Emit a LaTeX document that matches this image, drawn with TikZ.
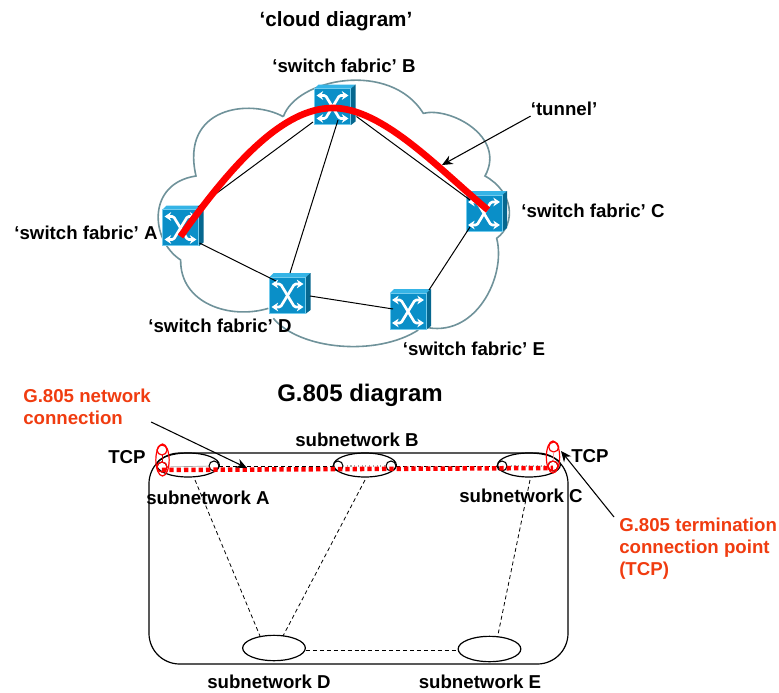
\documentclass[tikz,border=0pt]{standalone}
\usepackage{fontspec}
\setmainfont{Liberation Sans}
\usetikzlibrary{calc,arrows.meta,shapes.geometric}
\definecolor{cloudc}{HTML}{6F929A}
\definecolor{swface}{HTML}{0A8FC8}
\definecolor{swtop}{HTML}{35B4E6}
\definecolor{swside}{HTML}{06678F}
\definecolor{tcpred}{HTML}{F03C10}
\tikzset{
 x=0.75pt,y=-0.75pt,
 lbl/.style={font=\fontsize{14}{22}\selectfont\bfseries,inner sep=0pt,text=black},
 redlbl/.style={font=\fontsize{14}{16.5}\selectfont\bfseries,inner sep=0pt,text=tcpred,align=left,anchor=north west},
 ttl/.style={font=\fontsize{#1}{20}\selectfont\bfseries,inner sep=0pt},
 swbox/.style={draw=swtop!70!white,line width=0.5pt,fill=swface,minimum width=27pt,minimum height=27pt,inner sep=0pt,outer sep=0pt},
 link/.style={black,line width=0.75pt},
 dlink/.style={black,line width=0.6pt,dash pattern=on 3pt off 2.2pt},
 ptr/.style={black,line width=0.8pt,-{Stealth[length=8pt,width=7pt]}},
 sn/.style={draw=black,line width=0.9pt,ellipse,inner sep=0pt,outer sep=0pt,minimum width=47pt,minimum height=18pt},
 sncirc/.style={draw=black,line width=0.8pt,circle,minimum size=7.5pt,inner sep=0pt,outer sep=0pt},
 redell/.style={draw=red,line width=0.9pt,ellipse,inner sep=0pt,outer sep=0pt,minimum width=10pt,minimum height=24pt},
 redcirc/.style={draw=red,line width=0.9pt,circle,minimum size=7.5pt,inner sep=0pt,outer sep=0pt},
 swarrow/.style={white,line width=2pt,{Stealth[length=5pt,width=6.5pt]}-{Stealth[length=5pt,width=6.5pt]}},
}
\newcommand{\swt}[3]{%
 \fill[swtop] (#2-18,#3-18) -- (#2-14,#3-22) -- (#2+23,#3-22) -- (#2+18.5,#3-18) -- cycle;
 \fill[swside] (#2+18.5,#3-18) -- (#2+23,#3-22) -- (#2+23,#3+15) -- (#2+18.5,#3+18.5) -- cycle;
 \node[swbox] (#1) at (#2,#3) {};
 \draw[swarrow,rounded corners=1pt] (#2-16,#3-11) -- (#2-7,#3-11) -- (#2+7,#3+12) -- (#2+16,#3+12);
 \draw[swarrow,rounded corners=1pt] (#2+16,#3-11) -- (#2+7,#3-11) -- (#2-7,#3+12) -- (#2-16,#3+12);
}
\begin{document}
\begin{tikzpicture}
\useasboundingbox (0,0) rectangle (779,693);
% cloud
\begin{scope}[shift={(150,70)},x=0.25pt,y=-0.25pt]
\draw[cloudc,line width=1.2pt] (400,140) .. controls (440,25) and (720,-30) .. (820,130)
 .. controls (900,110) and (1070,200) .. (1005,318)
 .. controls (1090,365) and (1100,460) .. (1040,505)
 .. controls (1070,620) and (975,810) .. (820,770);
\draw[cloudc,line width=1.2pt] (805,780) .. controls (680,860) and (450,840) .. (370,745);
\draw[cloudc,line width=1.2pt] (355,715) .. controls (240,750) and (90,700) .. (92,570)
 .. controls (0,510) and (-10,340) .. (138,318)
 .. controls (90,110) and (300,85) .. (400,140);
\end{scope}
% switches
\swt{A}{180.5}{227.5}
\swt{B}{332.5}{106.5}
\swt{C}{484}{213}
\swt{D}{287.5}{295}
\swt{E}{408}{311}
% links
\draw[link] ($(A)+(17.5,-20.5)$) -- ($(B)+(-19.5,15.5)$);
\draw[link] ($(A)+(19,15.5)$) -- ($(D)+(-11.5,-14)$);
\draw[link] ($(B)+(5.5,13.5)$) -- ($(D)+(2.5,-22)$);
\draw[link] ($(B)+(24,10)$) -- ($(C)+(-14,-13)$);
\draw[link] ($(C)+(-14,14)$) -- ($(E)+(21,-21)$);
\draw[link] ($(D)+(22.5,1)$) -- ($(E)+(-15,-2)$);
% tunnel
\draw[red,line width=5pt] ($(A)+(0,9)$) .. controls (233,163) and (283,108) .. (333,108)
 .. controls (383,108) and (440,170) .. ($(C)+(4,-3)$);
% labels top
\node[ttl=15.5] (t1) at (336,21) {‘cloud diagram’};
\node[lbl] (lb) at (344,66) {‘switch fabric’ B};
\node[lbl] (la) at (86,233) {‘switch fabric’ A};
\node[lbl] (lc) at (593,211) {‘switch fabric’ C};
\node[lbl] (ld) at (220,326) {‘switch fabric’ D};
\node[lbl] (le) at (474,349) {‘switch fabric’ E};
\node[lbl] (tun) at (564,109) {‘tunnel’};
\coordinate (tunhit) at (442,165);
\draw[ptr] (tun.south west) -- (tunhit);
% G.805
\node[ttl=18] (t2) at (360,395) {G.805 diagram};
\draw[black,line width=0.9pt,rounded corners=23pt] (149,453) rectangle (568,664);
% subnetworks
\node[sn] (sa) at (188,465) {};
\node[sn] (sb) at (365,465) {};
\node[sn] (sc) at (529,465) {};
\node[sn,minimum height=19pt] (sd) at (274,648) {};
\node[sn,minimum height=19pt] (se) at (489.5,649) {};
% link connection points
\node[sncirc] (a1) at (162,467) {};
\node[sncirc] (a2) at (214,466) {};
\node[sncirc] (b1) at (338,466) {};
\node[sncirc] (b2) at (391,466) {};
\node[sncirc] (c1) at (502,466) {};
\node[sncirc] (c2) at (553,466) {};
\draw[gray!70,line width=0.5pt] (a1) -- (a2);
\draw[gray!70,line width=0.8pt,dotted] (b1) -- (b2);
\draw[gray!70,line width=0.8pt,dotted] (c1) -- (c2);
\draw[dlink] (a2) -- (b1);
\draw[dlink] (b2) -- (c1);
\draw[dlink] ($(sa)+(7,15)$) -- ($(sd)+(-14,-12)$);
\draw[dlink] ($(sb)+(0,15)$) -- ($(sd)+(9,-12)$);
\draw[dlink] ($(sc)+(1,15)$) -- ($(se)+(8,-12)$);
\draw[dlink] ($(sd)+(32,2)$) -- ($(se)+(-32.5,1)$);
% red network connection
\draw[red,line width=3.4pt,dash pattern=on 3.2pt off 2.3pt] ($(a1.south)+(0,-2)$) -- ($(c2.south)+(0,-3)$);
% TCP marks
\node[redell] (tl) at (162.5,460) {};
\node[redell] (tr) at (553,457) {};
\node[redcirc] (tl1) at (162,450) {};
\node[redcirc] (tl2) at (162,467) {};
\node[redcirc] (tr1) at (553.7,447) {};
\node[redcirc] (tr2) at (553,466) {};
\draw[red!80!black,line width=0.6pt] (tl1) -- (tl2);
\draw[red!40,line width=0.6pt] (tr1) -- (tr2);
% labels bottom
\node[lbl] (sba) at (208,498) {subnetwork A};
\node[lbl] (sbb) at (357,440) {subnetwork B};
\node[lbl] (sbc) at (521,496) {subnetwork C};
\node[lbl] (sbd) at (269,682) {subnetwork D};
\node[lbl] (sbe) at (480,682) {subnetwork E};
\node[lbl] (tcpl) at (127,457) {TCP};
\node[lbl] (tcpr) at (590,456) {TCP};
\node[redlbl] (gnc) at (23,389) {G.805 network\\connection};
\node[redlbl] (gtc) at (619,518) {G.805 termination\\connection point\\(TCP)};
\coordinate (nchit) at (247,468);
\coordinate (tcphit) at (561,451);
\draw[ptr] ($(gnc.north east)+(0,33)$) -- (nchit);
\draw[ptr] ($(gtc.north west)+(-5,-1)$) -- (tcphit);
\end{tikzpicture}
\end{document}
